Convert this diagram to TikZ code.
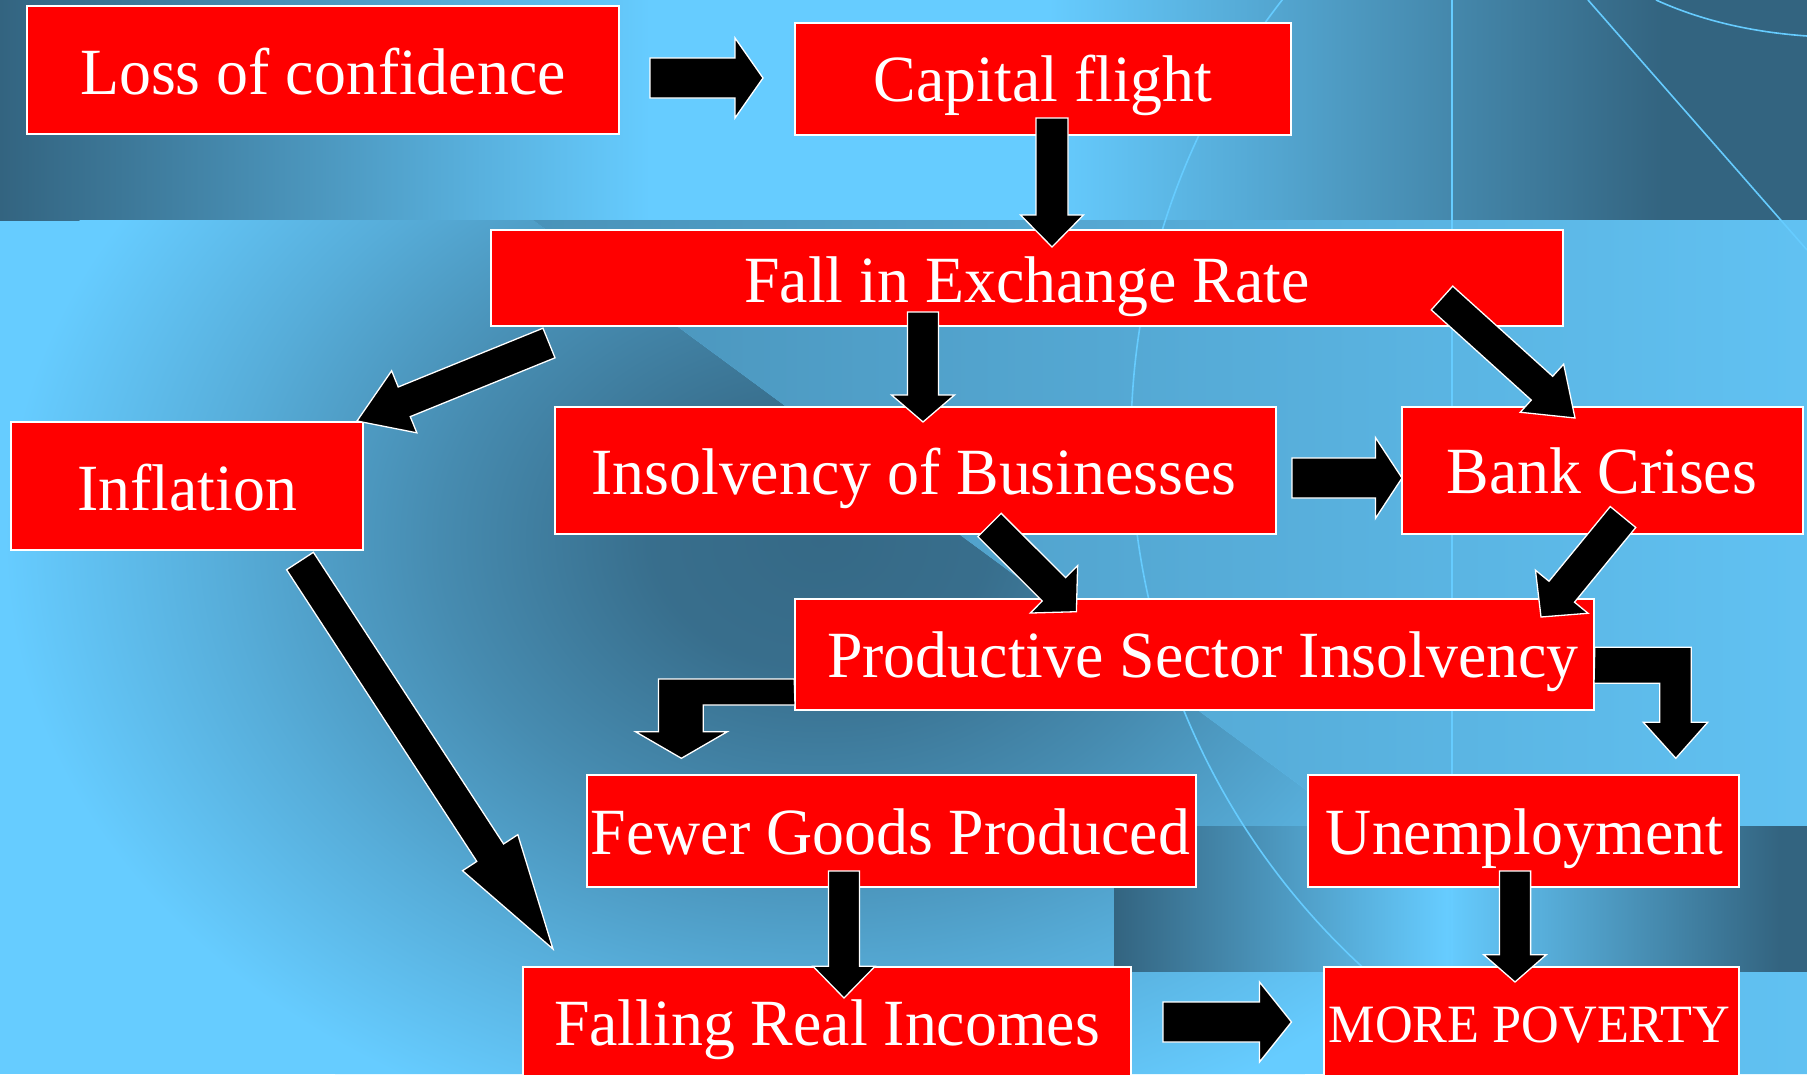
\documentclass[tikz,border=0pt]{standalone}
\usepackage{fontspec}
\setmainfont[FakeStretch=0.967]{Liberation Serif}
\usetikzlibrary{calc}
\definecolor{oceanL}{RGB}{102,204,255}
\definecolor{oceanD}{RGB}{51,100,128}
\definecolor{boxred}{RGB}{255,0,0}
\pgfdeclarehorizontalshading{oceantop}{100bp}{color(0bp)=(oceanD); color(25bp)=(oceanD); color(43bp)=(oceanL); color(54bp)=(oceanL); color(71bp)=(oceanD); color(100bp)=(oceanD)}
\pgfdeclarehorizontalshading{oceanband}{100bp}{color(0bp)=(oceanD); color(25bp)=(oceanD); color(49bp)=(oceanL); color(73bp)=(oceanD); color(100bp)=(oceanD)}
\pgfdeclareradialshading{oceanrad}{\pgfpoint{0bp}{0bp}}{color(0bp)=(oceanD!95!oceanL); color(5bp)=(oceanD!90!oceanL); color(11.25bp)=(oceanD!62!oceanL); color(17.5bp)=(oceanD!30!oceanL); color(24bp)=(oceanL); color(50bp)=(oceanL)}
\tikzset{
  box/.style={rectangle, draw=white, line width=1.6pt, fill=boxred, inner sep=0pt},
  lbl/.style={text=white, inner sep=0pt, anchor=base, font=\fontsize{66}{72}\selectfont},
  smalllbl/.style={text=white, inner sep=0pt, anchor=base, font=\fontsize{54}{60}\selectfont},
  blockarrow/.style={fill=black, draw=white, line width=1.3pt, line join=miter},
  bgline/.style={draw=oceanL, line width=1.6pt},
}
% #1 start, #2 tip, #3 half shaft width, #4 half head width, #5 head length
\newcommand\blockarr[5]{%
  \coordinate (hb) at ($(#2)!#5pt!(#1)$);
  \draw[blockarrow] ($(#1)!#3pt!90:(#2)$) -- ($(hb)!#3pt!90:(#2)$) -- ($(hb)!#4pt!90:(#2)$) -- (#2)
    -- ($(hb)!#4pt!-90:(#2)$) -- ($(hb)!#3pt!-90:(#2)$) -- ($(#1)!#3pt!-90:(#2)$) -- cycle;}
\begin{document}
\begin{tikzpicture}[x=1pt,y=-1pt]
\useasboundingbox (0,0) rectangle (1807,1074);
\clip (0,0) rectangle (1807,1074);
% ---------- background ----------
\fill[oceanL] (0,0) rectangle (1807,1074);
\shade[shading=oceantop] (0,0) rectangle (1807,220);
\begin{scope}
  \clip (0,220) -- (533,220) -- (1420,874) -- (1420,1074) -- (0,1074) -- cycle;
  \shade[shading=oceanrad] (820,540) ellipse [x radius=850, y radius=650];
\end{scope}
\begin{scope}
  \clip (533,220) -- (1807,220) -- (1807,1074) -- (1420,1074) -- (1420,874) -- cycle;
  \shade[left color=oceanD!55!oceanL, right color=oceanD!10!oceanL] (533,220) rectangle (1807,1074);
\end{scope}
\shade[shading=oceanband] (1114,826) rectangle (1807,971);
\draw[bgline] (1452,0) -- (1452,1074);
\draw[bgline] (1588,0) -- (1807,250);
\draw[bgline] (1656,0) .. controls (1700,20) and (1750,32) .. (1807,36);
\draw[bgline] (1847,440) circle [radius=716];
% ---------- boxes ----------
\node[box, minimum width=592, minimum height=128] (loss) at (323,70) {};
\node[box, minimum width=496, minimum height=112] (cap) at (1043,79) {};
\node[box, minimum width=1072, minimum height=96] (fall) at (1027,278) {};
\node[box, minimum width=352, minimum height=128] (infl) at (187,486) {};
\node[box, minimum width=721, minimum height=127] (insb) at (915.5,470.5) {};
\node[box, minimum width=401, minimum height=127] (bank) at (1602.5,470.5) {};
\node[box, minimum width=799, minimum height=111] (prod) at (1194.5,654.5) {};
\node[box, minimum width=609, minimum height=112] (fewer) at (891.5,831) {};
\node[box, minimum width=431, minimum height=112] (unemp) at (1523.5,831) {};
\node[box, minimum width=608, minimum height=140] (falling) at (827,1037) {};
\node[box, minimum width=415, minimum height=140] (pov) at (1531.5,1037) {};
% ---------- texts ----------
\node[lbl] (tloss) at (323,94) {Loss of confidence};
\node[lbl] (tcap) at (1043,101) {Capital flight};
\node[lbl] (tfall) at (1027,302) {Fall in Exchange Rate};
\node[lbl] (tinfl) at (187,510) {Inflation};
\node[lbl] (tinsb) at (914,494) {Insolvency of Businesses};
\node[lbl] (tbank) at (1602,493) {Bank Crises};
\node[lbl] (tprod) at (1203,677) {Productive Sector Insolvency};
\node[lbl] (tfewer) at (890.5,854) {Fewer Goods Produced};
\node[lbl] (tunemp) at (1524.5,854) {Unemployment};
\node[lbl] (tfalling) at (827,1045) {Falling Real Incomes};
\node[smalllbl] (tpov) at (1529.5,1042) {MORE POVERTY};
% ---------- arrow ends ----------
\coordinate (a1s) at (650,78);   \coordinate (a1t) at (763,78);
\coordinate (a2s) at (1052,118); \coordinate (a2t) at (1052,247);
\coordinate (a3s) at (549,343);  \coordinate (a3t) at (357,421);
\coordinate (a4s) at (923,312);  \coordinate (a4t) at (923,422);
\coordinate (a5s) at (1442,298); \coordinate (a5t) at (1575,418);
\coordinate (a6s) at (1292,478); \coordinate (a6t) at (1402,478);
\coordinate (a7s) at (989.5,525); \coordinate (a7t) at (1076.4,611.7);
\coordinate (a8s) at (1623,517); \coordinate (a8t) at (1541,617);
\coordinate (a9s) at (844,871);  \coordinate (a9t) at (844,998);
\coordinate (a10s) at (1515,871); \coordinate (a10t) at (1515,982);
\coordinate (a11s) at (1163,1022); \coordinate (a11t) at (1291.5,1022);
\coordinate (a12s) at (300,561); \coordinate (a12t) at (553,949);
% ---------- arrows ----------
\blockarr{a1s}{a1t}{20}{40}{28}
\blockarr{a2s}{a2t}{16}{31.5}{32}
\blockarr{a3s}{a3t}{16}{33.5}{51}
\blockarr{a4s}{a4t}{15.5}{31.5}{27}
\blockarr{a5s}{a5t}{16}{32.4}{44.5}
\blockarr{a6s}{a6t}{20}{40.5}{26.6}
\blockarr{a7s}{a7t}{16.5}{33.5}{31.7}
\blockarr{a8s}{a8t}{16.5}{34}{32.7}
\blockarr{a9s}{a9t}{15.5}{31}{31.7}
\blockarr{a10s}{a10t}{15.6}{31.3}{27.3}
\blockarr{a11s}{a11t}{20}{40}{32}
\blockarr{a12s}{a12t}{16}{33}{115}
% bent arrows
\coordinate (e1s) at (prod.west |- 0,679);
\coordinate (e1t) at (681.4,758.3);
\draw[blockarrow] (e1s) -- (658.4,679) -- (658.4,731.7) -- (635.5,731.7) -- (e1t)
  -- (727.3,731.7) -- (703.2,731.7) -- (703.2,705) -- (795,705) -- cycle;
\coordinate (e2s) at (prod.east |- 0,647.3);
\coordinate (e2t) at (1675.8,758.3);
\draw[blockarrow] (e2s) -- (1691.2,647.3) -- (1691.2,722.3) -- (1707.7,722.3) -- (e2t)
  -- (1643.3,722.3) -- (1659.8,722.3) -- (1659.8,683.3) -- (1594,683.3) -- cycle;
\end{tikzpicture}
\end{document}
